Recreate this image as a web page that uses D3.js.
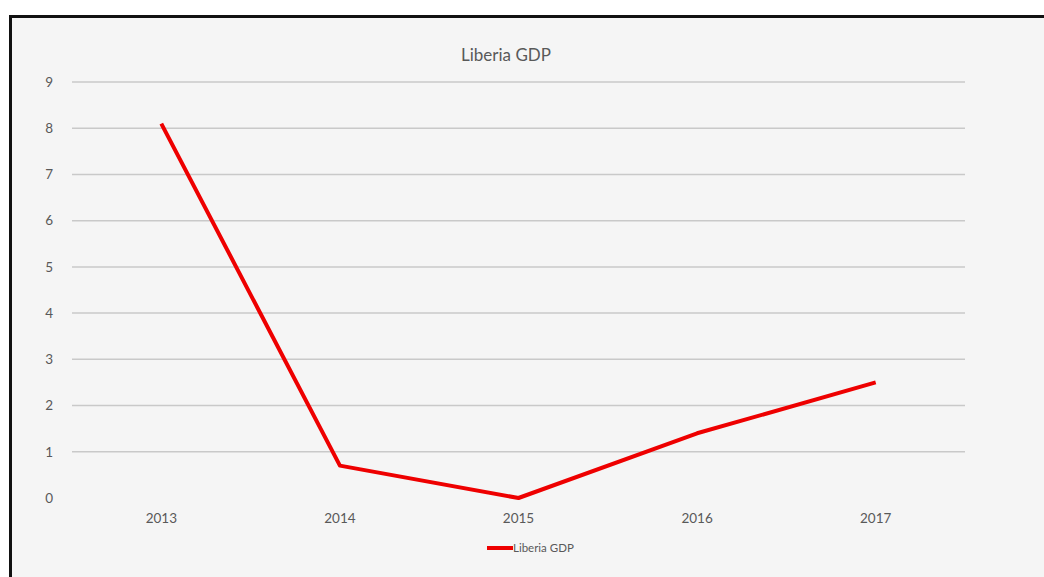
<!DOCTYPE html>
<html>
<head>
<meta charset="utf-8">
<script src="https://cdn.jsdelivr.net/npm/d3@7"></script>
<style>
  body { margin: 0; background: #ffffff; }
  text { font-family: Lato, "Open Sans", sans-serif; fill: #595959; }
</style>
</head>
<body>
<div id="container"></div>
<script>
let w = 1044;
let h = 577;

// data
let years = ["2013", "2014", "2015", "2016", "2017"];
let gdp = [8.1, 0.7, 0, 1.4, 2.5];
let yTicks = [0, 1, 2, 3, 4, 5, 6, 7, 8, 9];
let seriesName = "Liberia GDP";

let viz = d3.select("#container")
  .append("svg")
    .attr("width", w)
    .attr("height", h)
;

// frame: black border left/top, light grey panel
viz.append("rect")
  .attr("x", 9).attr("y", 15)
  .attr("width", w - 9).attr("height", h - 15)
  .attr("fill", "#111");
viz.append("rect")
  .attr("x", 12).attr("y", 18)
  .attr("width", w - 12).attr("height", h - 18)
  .attr("fill", "#f5f5f5");

let plotLeft = 72, plotRight = 965, plotTop = 82, plotBottom = 498;

let xScale = d3.scaleBand().domain(years).range([plotLeft, plotRight]);
let yScale = d3.scaleLinear().domain([0, 9]).range([plotBottom, plotTop]);

// gridlines (none at zero)
viz.append("g")
  .selectAll("line").data(yTicks.filter(d => d > 0)).enter()
  .append("line")
    .attr("x1", plotLeft).attr("x2", plotRight)
    .attr("y1", d => yScale(d)).attr("y2", d => yScale(d))
    .attr("stroke", "#c9c9c9")
    .attr("stroke-width", 1.5)
;

let yAxis = d3.axisLeft(yScale).tickValues(yTicks).tickSize(0).tickPadding(0);
let yG = viz.append("g")
  .attr("transform", "translate(" + (plotLeft - 19) + ",0)")
  .call(yAxis);
yG.select(".domain").remove();
yG.selectAll("text").attr("font-size", 13.5).style("font-family", "Lato, sans-serif").attr("fill", "#606060");

let xAxis = d3.axisBottom(xScale).tickSize(0).tickPadding(0);
let xG = viz.append("g")
  .attr("transform", "translate(0," + (plotBottom + 15) + ")")
  .call(xAxis);
xG.select(".domain").remove();
xG.selectAll("text").attr("font-size", 13.5).style("font-family", "Lato, sans-serif").attr("fill", "#606060");

// the series
let line = d3.line()
  .x((d, i) => xScale(years[i]) + xScale.bandwidth() / 2)
  .y(d => yScale(d));

viz.append("path")
  .datum(gdp)
  .attr("d", line)
  .attr("fill", "none")
  .attr("stroke", "#ee0000")
  .attr("stroke-width", 4)
  .attr("stroke-linejoin", "round")
;

// title
viz.append("text")
  .attr("x", 506).attr("y", 61)
  .attr("text-anchor", "middle")
  .attr("font-size", 17)
  .attr("fill", "#606060")
  .text(seriesName);

// legend
let legend = viz.append("g").attr("transform", "translate(487,548)");
legend.append("line")
  .attr("x1", 0).attr("x2", 26)
  .attr("stroke", "#ee0000").attr("stroke-width", 4);
legend.append("text")
  .attr("x", 26).attr("y", 4)
  .attr("font-size", 11.5)
  .attr("fill", "#707070")
  .text(seriesName);
</script>
</body>
</html>
